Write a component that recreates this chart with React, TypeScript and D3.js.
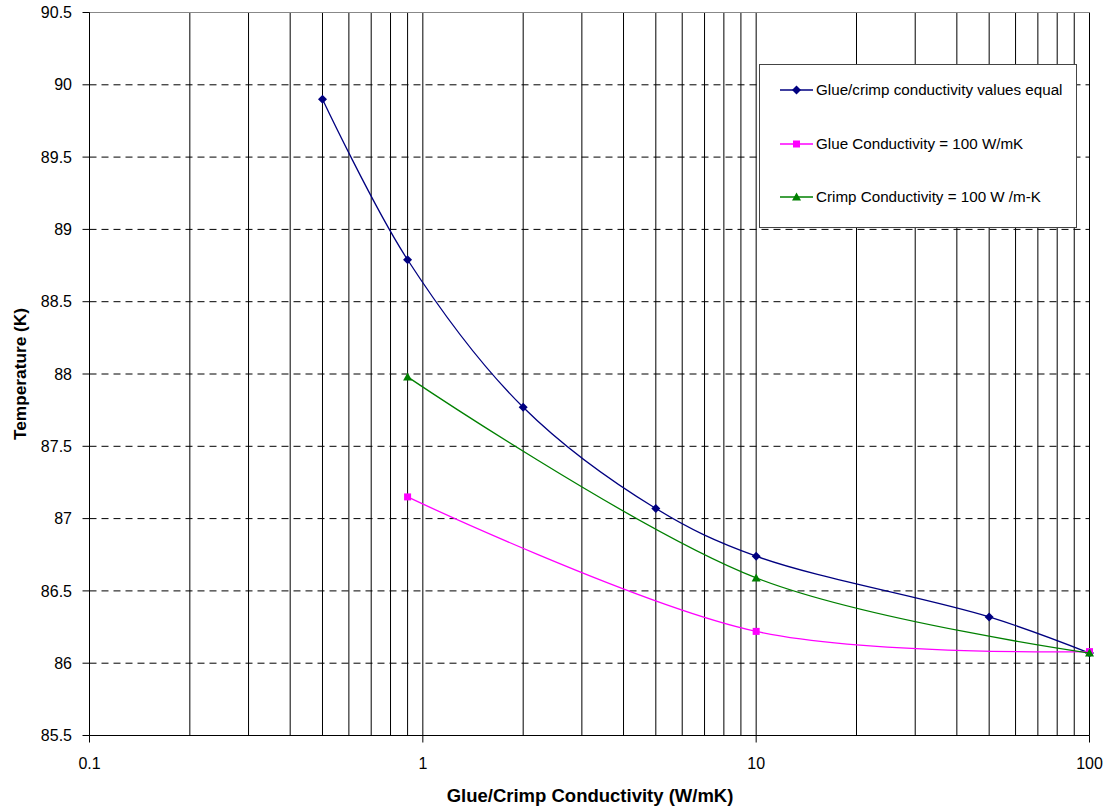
import React from 'react';
import * as d3 from 'd3';

// Glue/crimp conductivity (W/mK) vs temperature (K)
const equalX = [0.5, 0.9, 2, 5, 10, 50, 100];
const equalY = [89.9, 88.79, 87.77, 87.07, 86.74, 86.32, 86.07];

const glueX = [0.9, 10, 100];
const glueY = [87.15, 86.22, 86.08];

const crimpX = [0.9, 10, 100];
const crimpY = [87.98, 86.59, 86.07];

const xTicks = [0.1, 1, 10, 100];
const xTickLabels = ['0.1', '1', '10', '100'];
const yTicks = [85.5, 86, 86.5, 87, 87.5, 88, 88.5, 89, 89.5, 90, 90.5];
const yTickLabels = ['85.5', '86', '86.5', '87', '87.5', '88', '88.5', '89', '89.5', '90', '90.5'];

const seriesNames = [
  'Glue/crimp conductivity values equal',
  'Glue Conductivity = 100 W/mK',
  'Crimp Conductivity = 100 W /m-K',
];

const W = 1112;
const H = 811;
const plot = { left: 89.5, right: 1089.5, top: 12.5, bottom: 735.5 };
const FONT = 'Arial, "Liberation Sans", Helvetica, sans-serif';

const x = d3.scaleLog().domain([0.1, 100]).range([plot.left, plot.right]);
const y = d3.scaleLinear().domain([85.5, 90.5]).range([plot.bottom, plot.top]);

// minor vertical gridlines 0.2..0.9, 2..9, 20..90 and majors
const vGrid: number[] = [];
[0.1, 1, 10].forEach(dec => {
  for (let k = 1; k <= 9; k++) vGrid.push(dec * k);
});
vGrid.push(100);

const line = d3.line<[number, number]>()
  .x(d => x(d[0]))
  .y(d => y(d[1]))
  .curve(d3.curveCatmullRom.alpha(0.5));

const series = [
  { xs: equalX, ys: equalY, color: '#000080', marker: 'diamond' },
  { xs: glueX, ys: glueY, color: '#FF00FF', marker: 'square' },
  { xs: crimpX, ys: crimpY, color: '#008000', marker: 'triangle' },
];

const Marker = ({ type, cx, cy, color }: { type: string; cx: number; cy: number; color: string }) => {
  if (type === 'diamond') {
    return <path d={`M${cx},${cy - 4.5}L${cx + 4.5},${cy}L${cx},${cy + 4.5}L${cx - 4.5},${cy}Z`} fill={color} />;
  }
  if (type === 'square') {
    return <rect x={cx - 3.5} y={cy - 3.5} width={7} height={7} fill={color} />;
  }
  return <path d={`M${cx},${cy - 4.5}L${cx + 4.5},${cy + 3.5}L${cx - 4.5},${cy + 3.5}Z`} fill={color} />;
};

export default function App() {
  const legend = { x: 759.5, y: 64.5, w: 317, h: 163 };
  const legendRows = [90, 144, 197];

  return (
    <svg width={W} height={H} style={{ position: 'absolute', left: 0, top: 0, background: '#fff' }}
      fontFamily={FONT}>
      <rect x={0} y={0} width={W} height={H} fill="#fff" />

      {/* vertical gridlines */}
      {vGrid.map((v, i) => (
        <line key={`v${i}`} x1={x(v)} x2={x(v)} y1={plot.top} y2={plot.bottom}
          stroke="#000" strokeWidth={1} />
      ))}

      {/* horizontal dashed gridlines */}
      {yTicks.slice(1, -1).map((v, i) => (
        <line key={`h${i}`} x1={plot.left} x2={plot.right} y1={y(v)} y2={y(v)}
          stroke="#000" strokeWidth={1} strokeDasharray="7,5" />
      ))}

      {/* top border */}
      <line x1={plot.left} x2={plot.right} y1={plot.top} y2={plot.top} stroke="#888" />

      {/* axes */}
      <line x1={plot.left} x2={plot.left} y1={plot.top} y2={plot.bottom} stroke="#000" />
      <line x1={plot.left} x2={plot.right} y1={plot.bottom} y2={plot.bottom} stroke="#000" />

      {yTicks.map((v, i) => (
        <g key={`yt${i}`}>
          <line x1={plot.left - 7} x2={plot.left} y1={y(v)} y2={y(v)} stroke="#000" />
          <text x={72} y={y(v)} dy="0.35em" textAnchor="end" fontSize={16} fill="#000">
            {yTickLabels[i]}
          </text>
        </g>
      ))}

      {xTicks.map((v, i) => (
        <g key={`xt${i}`}>
          <line x1={x(v)} x2={x(v)} y1={plot.bottom} y2={plot.bottom + 7} stroke="#000" />
          <text x={x(v)} y={769} textAnchor="middle" fontSize={16} fill="#000">
            {xTickLabels[i]}
          </text>
        </g>
      ))}

      <text x={590} y={802} textAnchor="middle" fontSize={18.5} fontWeight="bold" fill="#000">
        Glue/Crimp Conductivity (W/mK)
      </text>
      <text transform="translate(26,374) rotate(-90)" textAnchor="middle" fontSize={17.3}
        fontWeight="bold" fill="#000">
        Temperature (K)
      </text>

      {/* series */}
      {series.map((s, i) => {
        const pts = s.xs.map((v, j) => [v, s.ys[j]] as [number, number]);
        return (
          <g key={`s${i}`}>
            <path d={line(pts) || ''} fill="none" stroke={s.color} strokeWidth={1.3} />
            {pts.map((p, j) => (
              <Marker key={j} type={s.marker} cx={x(p[0])} cy={y(p[1])} color={s.color} />
            ))}
          </g>
        );
      })}

      {/* legend */}
      <rect x={legend.x} y={legend.y} width={legend.w} height={legend.h} fill="#fff" stroke="#444" />
      {series.map((s, i) => (
        <g key={`l${i}`}>
          <line x1={780} x2={813} y1={legendRows[i]} y2={legendRows[i]} stroke={s.color} strokeWidth={1.3} />
          <Marker type={s.marker} cx={796.5} cy={legendRows[i]} color={s.color} />
          <text x={816} y={legendRows[i]} dy="0.35em" fontSize={15.2} fill="#000">
            {seriesNames[i]}
          </text>
        </g>
      ))}
    </svg>
  );
}
